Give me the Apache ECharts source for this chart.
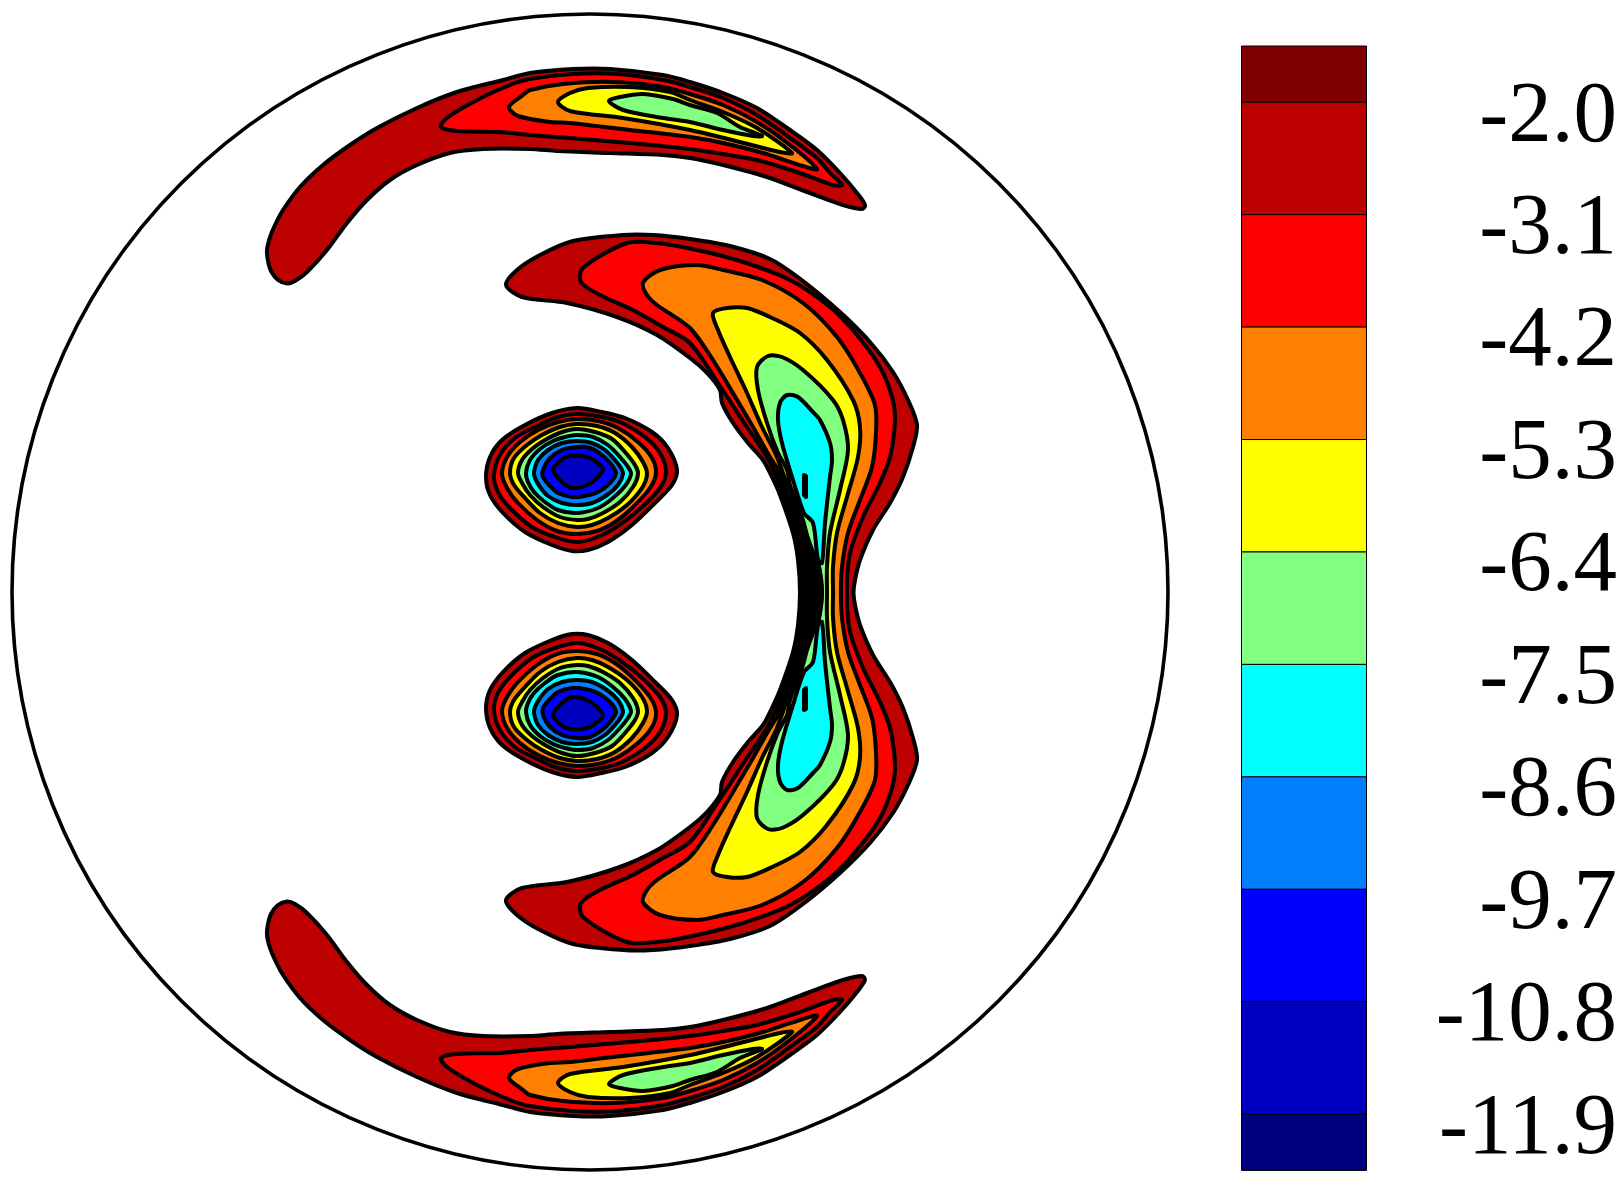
<!DOCTYPE html>
<html><head><meta charset="utf-8">
<style>html,body{margin:0;padding:0;background:#fff}#c{width:1620px;height:1185px}</style>
<script src="https://cdn.jsdelivr.net/npm/echarts@6/dist/echarts.min.js"></script>
</head><body><div id="c"></div>
<script>
// colour scale
const tickValues = [-2.0,-3.1,-4.2,-5.3,-6.4,-7.5,-8.6,-9.7,-10.8,-11.9];
const bandEdges = [-1.45,-2.0,-3.1,-4.2,-5.3,-6.4,-7.5,-8.6,-9.7,-10.8,-11.9,-12.45];
const bandColors = ['#800000','#bd0000','#ff0000','#ff8000','#ffff00','#80ff80','#00ffff','#0080ff','#0000ff','#0000c0','#000080'];
// domain boundary, in plot units
const domainCentre = [590,592];
const domainRadius = 578;
const midY = 592.5;
// outer crescent (upper half), contours by band index
const crescentBand1 = [[287,283.5],[278,280],[271,271],[268,261],[267,250],[270,237],[275,225],[283,210],[300,187],[323,165],[350,145],[377,128],[417,108],[457,92],[503,80],[530,73],[573,69],[610,69],[663,75],[690,82],[723,93],[757,108],[790,130],[817,150],[840,173],[857,193],[865,205],[862,209],[843,205],[807,192],[767,177],[723,165],[690,158],[663,155],[610,153],[557,151],[530,149],[483,149],[450,153],[417,165],[390,180],[367,200],[347,223],[327,250],[307,272],[295,281]];
const crescentBand2 = [[441,127],[447,118],[477,100],[510,85],[530,79],[573,74],[617,74],[663,80],[690,87],[723,98],[757,115],[790,138],[817,158],[830,173],[842,185],[833,185],[797,172],[757,160],[723,154],[690,149],[630,143],[570,138],[530,135],[500,132],[457,131]];
const crescentBand3 = [[509,107],[523,95],[530,90],[563,84],[613,82],[663,87],[690,94],[723,105],[757,122],[790,145],[817,169],[803,166],[763,153],[723,143],[690,137],[630,130],[570,123],[550,122],[518,116]];
const crescentBand4 = [[558,102],[570,93],[588,88],[630,87],[670,92],[690,100],[723,112],[757,128],[792,153],[780,152],[740,142],[690,130],[623,118],[570,111]];
const crescentBand5 = [[609,101],[620,97],[643,94],[673,99],[690,105],[717,113],[740,127],[762,136],[753,136],[723,130],[690,122],[663,118],[623,110]];
// central crescent, upper half paths from the midline round to the midline
const centralBand1 = [[800,592.5],[798,560],[793,533],[780,495],[772,477],[763,460],[748,443],[733,423],[722,403],[720,390],[707,373],[690,358],[657,335],[617,317],[567,303],[522,297],[506,285],[517,270],[540,255],[573,241],[623,235],[653,235],[690,239],[730,246],[770,259],[803,281],[840,312],[870,342],[893,372],[908,400],[917,425],[913,447],[903,477],[890,503],[873,530],[860,560],[855,580],[853.5,592.5]];
const centralBand2 = [[812,592.5],[800,530],[780,485],[767,457],[747,427],[718,383],[690,343],[663,327],[633,310],[600,295],[581,282],[583,268],[627,243],[657,243],[697,250],[743,262],[790,280],[830,307],[857,335],[880,367],[892,397],[895,420],[890,457],[880,483],[863,517],[850,553],[847,580],[847,592.5]];
const centralBand3 = [[814,592.5],[802,540],[790,490],[770,457],[753,427],[733,393],[713,360],[690,328],[657,305],[647,295],[643,283],[660,270],[697,265],[723,270],[762,280],[803,303],[837,337],[860,373],[875,405],[876,433],[872,467],[860,500],[848,533],[842,567],[841,592.5]];
const centralBand4 = [[815,592.5],[805,550],[795,510],[777,457],[762,427],[747,393],[730,357],[718,330],[713,313],[727,308],[747,308],[770,317],[800,333],[827,360],[853,400],[860,427],[858,457],[847,497],[837,533],[833,567],[833,592.5]];
const centralBand5 = [[822,592.5],[819,567],[813,552],[807,535],[803,520],[797,503],[790,485],[787,470],[778,453],[767,423],[758,390],[757,367],[768,356],[782,357],[803,370],[833,400],[843,420],[848,450],[840,490],[830,533],[827,567],[827,592.5]];
const centralPacked = [[801,592.5],[799,560],[794,533],[786,505],[780,482],[776,472],[783,478],[788,490],[796,505],[802,522],[806,535],[812,552],[819,567],[822,592.5]];
const lobeBand6 = [[787,395],[798,397],[813,412],[820,420],[830,443],[832,460],[830,477],[825,523],[822,563],[818,560],[813,523],[804,513],[793,480],[782,443],[778,420],[780,403]];
const lobeBand7 = [[804,475],[806,476],[806,497],[804,495]];
// small vortex (upper one), contours by band index
const vortexBand1 = [[577,408],[602,412],[625,418],[652,432],[668,448],[677,470],[672,485],[655,503],[632,525],[608,542],[588,550],[572,551],[552,545],[525,532],[503,513],[490,495],[486,477],[490,457],[502,440],[525,425],[552,413]];
const vortexBand2 = [[577,414],[602,417],[622,423],[645,437],[660,453],[666,472],[660,488],[642,507],[622,523],[602,535],[578,542],[555,537],[532,527],[510,508],[498,492],[494,475],[500,455],[515,438],[535,427],[555,418]];
const vortexBand3 = [[577,419],[598,421],[618,428],[638,442],[652,458],[656,473],[650,488],[633,507],[615,522],[597,531],[577,534],[557,531],[537,520],[518,503],[507,488],[502,474],[507,457],[520,442],[538,430],[558,422]];
const vortexBand4 = [[577,424],[597,426],[615,433],[632,447],[643,462],[647,474],[642,488],[627,505],[608,518],[592,525],[577,527],[558,523],[540,513],[525,498],[514,485],[510,473],[514,458],[527,445],[542,435],[560,427]];
const vortexBand5 = [[577,429],[595,432],[612,439],[625,452],[635,465],[638,474],[633,487],[620,502],[603,513],[588,519],[577,520],[560,517],[543,507],[530,495],[522,483],[518,473],[522,460],[532,449],[545,440],[562,432]];
const vortexBand6 = [[577,435],[593,437],[608,445],[620,457],[628,467],[631,474],[625,486],[613,498],[598,508],[577,513],[558,510],[545,502],[534,492],[528,482],[526,473],[530,460],[540,449],[553,441],[565,437]];
const vortexBand7 = [[577,441],[592,443],[605,450],[615,460],[621,468],[623,474],[618,485],[607,495],[592,503],[577,505],[562,503],[548,496],[540,487],[535,478],[534,472],[538,460],[548,450],[562,443]];
const vortexBand8 = [[577,447],[590,448],[602,455],[610,463],[616,473],[610,483],[598,492],[585,496],[572,497],[558,493],[550,486],[543,477],[543,470],[550,458],[562,450]];
const vortexBand9 = [[553,470],[562,459],[570,456],[583,456],[592,459],[603,469],[596,479],[585,486],[572,488],[562,482]];

// the field is symmetric about the horizontal midline of the disc
const flip = p => p.map(([x,y]) => [x, 2*midY - y]);
const joined = p => p.concat(flip(p).reverse().slice(1,-1));

const contours = [];
const add = (pts, band, smooth) => contours.push({pts, band, smooth});
const SM = 0.3;
[crescentBand1,crescentBand2,crescentBand3,crescentBand4,crescentBand5].forEach((c,i)=>{
  add(c,i+1,SM); add(flip(c),i+1,SM);
});
[centralBand1,centralBand2,centralBand3,centralBand4,centralBand5].forEach((c,i)=>add(joined(c),i+1,SM));
add(lobeBand6,6,SM); add(flip(lobeBand6),6,SM);
add(lobeBand7,7,0); add(flip(lobeBand7),7,0);
add(joined(centralPacked),-1,0.1);
[vortexBand1,vortexBand2,vortexBand3,vortexBand4,vortexBand5,vortexBand6,vortexBand7,vortexBand8,vortexBand9].forEach((c,i)=>{
  add(c,i+1,SM); add(flip(c),i+1,SM);
});

const chart = echarts.init(document.getElementById('c'), null, {renderer:'canvas'});
chart.setOption({
  animation:false,
  backgroundColor:'#fff',
  grid:[
    {left:0,top:0,width:1620,height:1185,containLabel:false},
    {left:1241.5,top:46,width:125,height:1124.4,containLabel:false}
  ],
  xAxis:[
    {gridIndex:0,type:'value',min:0,max:1620,show:false},
    {gridIndex:1,type:'value',min:0,max:1,show:false}
  ],
  yAxis:[
    {gridIndex:0,type:'value',min:0,max:1185,inverse:true,show:false},
    {gridIndex:1,type:'value',min:-12.45,max:-1.45,position:'right',
     axisLine:{show:false},axisTick:{show:false},splitLine:{show:false},
     axisLabel:{show:true,customValues:tickValues,hideOverlap:false,
       formatter:v=>v.toFixed(1),align:'right',verticalAlign:'top',margin:250.5,
       lineHeight:31,color:'#000',fontFamily:'Liberation Serif',fontSize:87}}
  ],
  series:[
    {type:'custom',xAxisIndex:0,yAxisIndex:0,clip:false,silent:true,z:2,
     data:contours.map((c,i)=>[i]),
     renderItem:(params,api)=>{
       const c = contours[api.value(0)];
       return {type:'polygon',
         shape:{points:c.pts.map(p=>api.coord(p)),smooth:c.smooth},
         style:{fill:c.band<0?'#000':bandColors[c.band],stroke:'#000',lineWidth:4,lineJoin:'round'}};
     }},
    {type:'custom',xAxisIndex:0,yAxisIndex:0,clip:false,silent:true,z:1,
     data:[[domainCentre[0],domainCentre[1],domainRadius]],
     renderItem:(params,api)=>{
       const c = api.coord([api.value(0),api.value(1)]);
       const r = api.size([api.value(2),0])[0];
       return {type:'circle',shape:{cx:c[0],cy:c[1],r},style:{fill:'#fff',stroke:'#000',lineWidth:3.6}};
     }},
    {type:'custom',xAxisIndex:1,yAxisIndex:1,clip:false,silent:true,z:3,
     data:bandColors.map((c,i)=>[bandEdges[i],bandEdges[i+1],i]),
     renderItem:(params,api)=>{
       const a = api.coord([0,api.value(0)]), b = api.coord([1,api.value(1)]);
       return {type:'rect',shape:{x:a[0],y:a[1],width:b[0]-a[0],height:b[1]-a[1]},
         style:{fill:bandColors[api.value(2)],stroke:'#000',lineWidth:1}};
     }}
  ]
});
</script></body></html>
